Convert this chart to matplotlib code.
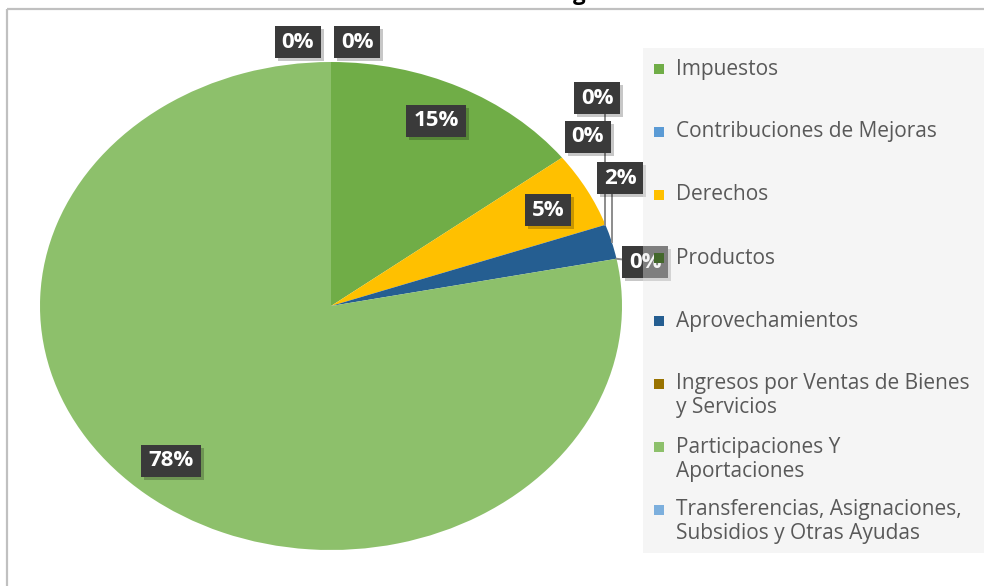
import textwrap
import numpy as np
import matplotlib
matplotlib.use("Agg")
import matplotlib.pyplot as plt
from matplotlib.patches import Rectangle

plt.rcParams['font.family'] = ['Open Sans', 'DejaVu Sans']

# ---------------- data ----------------
categories = [
    "Impuestos",
    "Contribuciones de Mejoras",
    "Derechos",
    "Productos",
    "Aprovechamientos",
    "Ingresos por Ventas de Bienes y Servicios",
    "Participaciones Y Aportaciones",
    "Transferencias, Asignaciones, Subsidios y Otras Ayudas",
    "Ingresos Derivados de Financiamientos",
]
values = [14.6, 0.0, 5.0, 0.0, 2.3, 0.0, 78.1, 0.0, 0.0]
title = "Gráfica de Ingresos Ordinarios"
legend_count = 8  # entries that fit in the legend box

# ---------------- style ----------------
colors = ["#70AD47", "#5B9BD5", "#FFC000", "#43682B", "#255E91",
          "#997300", "#8DC06B", "#7CAFDD", "#F1975A"]
label_px = [(436, 121), (588, 137), (548, 210), (597, 98), (620, 178),
            (645, 262), (171, 461), (357, 42), (298, 42)]
leader = [None, None, None, "v", "v", "h", None, None, None]
W, H = 984, 586

fig = plt.figure(figsize=(W / 100, H / 100), dpi=100)
fig.patch.set_facecolor("white")

# pie axes (elliptical, stretched like the reference)
cx, cy, rx, ry = 331, 306, 291, 244
ax = fig.add_axes([(cx - rx) / W, (H - cy - ry) / H, 2 * rx / W, 2 * ry / H])
wedges, _ = ax.pie(values, colors=colors, startangle=90, counterclock=False,
                   radius=1, wedgeprops=dict(linewidth=0))
ax.set_aspect("auto")
ax.set_xlim(-1, 1)
ax.set_ylim(-1, 1)
ax.axis("off")

# overlay in pixel coords (y down)
ov = fig.add_axes([0, 0, 1, 1])
ov.set_xlim(0, W)
ov.set_ylim(H, 0)
ov.axis("off")
ov.patch.set_alpha(0)

def to_px(x, y):
    d = ax.transData.transform((x, y))
    return ov.transData.inverted().transform(d)

# frame
ov.plot([7, 7], [H + 5, 9], color="#c0c0c0", lw=1.6, solid_capstyle="butt")
ov.plot([7, W + 5], [9, 9], color="#c0c0c0", lw=1.6, solid_capstyle="butt")

# title (mostly cropped off at top, as in the reference)
ov.text(600, 0, title, ha="center", va="baseline", fontsize=16,
        fontweight="bold", color="black", clip_on=False)

# leader lines
for w, kind, (lx, ly) in zip(wedges, leader, label_px):
    if kind is None:
        continue
    mid = np.deg2rad((w.theta1 + w.theta2) / 2)
    ex, ey = to_px(np.cos(mid), np.sin(mid))
    if kind == "v":
        ov.plot([ex, ex], [ey, ly], color="#8c8c8c", lw=1.4, zorder=2)
    else:
        ov.plot([ex, lx], [ey, ly], color="#8c8c8c", lw=1.4, zorder=2)

# data labels
texts = []
for v, (lx, ly) in zip(values, label_px):
    t = ov.text(lx, ly, f"{round(v):d}%", ha="center", va="center",
                fontsize=16, fontweight="bold", color="white", zorder=6)
    texts.append(t)
fig.canvas.draw()
r = fig.canvas.get_renderer()
for t, (lx, ly) in zip(texts, label_px):
    bb = t.get_window_extent(r)
    bw, bh = bb.width + 14, 32
    ov.add_patch(Rectangle((lx - bw / 2 + 3, ly - bh / 2 + 3), bw, bh,
                           facecolor="black", alpha=0.22, lw=0, zorder=4))
    ov.add_patch(Rectangle((lx - bw / 2, ly - bh / 2), bw, bh,
                           facecolor="#3a3a3a", lw=0, zorder=5))

# legend (semi-transparent background drawn over labels)
ov.add_patch(Rectangle((643, 48), W - 643 + 5, 553 - 48,
                       facecolor="#e6e6e6", alpha=0.4, lw=0, zorder=8))
y0, step = 69, 63
for i in range(legend_count):
    yy = y0 + i * step
    ov.add_patch(Rectangle((654, yy - 5), 10, 10, facecolor=colors[i],
                           lw=0, zorder=9))
    for j, line in enumerate(textwrap.wrap(categories[i], 29)):
        ov.text(676, yy + j * 24, line, ha="left", va="center", fontsize=15,
                color="#595959", zorder=9)

fig.savefig("out.png", dpi=100)
